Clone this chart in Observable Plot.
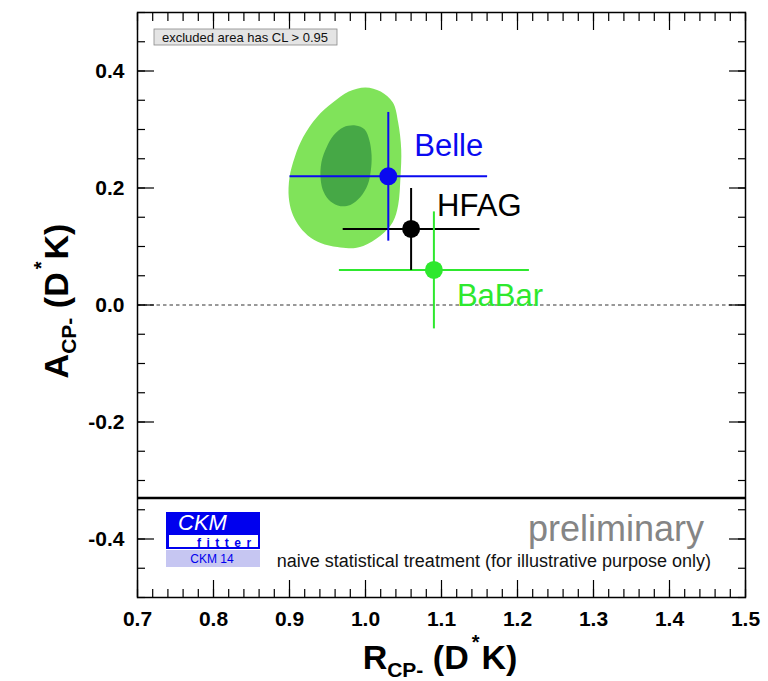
<!DOCTYPE html>
<html><head><meta charset="utf-8">
<script src="https://cdn.jsdelivr.net/npm/d3@7"></script>
<script src="https://cdn.jsdelivr.net/npm/@observablehq/plot@0.6"></script>
<style>body{margin:0;background:#fff}</style>
</head><body><div id="chart"></div>
<script>
// ---- data ----
const experiments = ["Belle", "HFAG", "BaBar"];
const rcpValues   = [1.03, 1.06, 1.09];
const rcpErrors   = [0.13, 0.09, 0.125];
const acpValues   = [0.22, 0.13, 0.06];
const acpErrors   = [0.11, 0.07, 0.10];
const expColors   = ["#0a0af0", "#000000", "#2ee82e"];
const labelDx     = [26, 26, 23];
const labelDy     = [-30, -23, 26];

// CL contours (R_CP-, A_CP-)
const outerR = [1.000,1.020,1.036,1.043,1.047,1.046,1.043,1.036,1.020,0.997,0.980,0.963,0.941,0.924,0.911,0.903,0.899,0.900,0.907,0.918,0.936,0.957,0.978];
const outerA = [0.372,0.365,0.346,0.312,0.266,0.218,0.171,0.142,0.119,0.101,0.097,0.099,0.106,0.119,0.138,0.159,0.184,0.218,0.253,0.287,0.321,0.346,0.365];
const innerR = [0.987,0.999,1.005,1.008,1.007,1.003,0.993,0.980,0.967,0.954,0.945,0.941,0.942,0.949,0.958,0.971];
const innerA = [0.307,0.300,0.282,0.256,0.230,0.206,0.184,0.171,0.169,0.177,0.193,0.215,0.244,0.270,0.290,0.304];

const boundaryA = [-0.33];
const zeroLine  = [0];

const xMajorTicks = [0.7, 0.8, 0.9, 1.0, 1.1, 1.2, 1.3, 1.4, 1.5];
const yMajorTicks = [-0.4, -0.2, 0.0, 0.2, 0.4];
const xMinorTicks = d3.range(0, 41).map(i => +(0.7 + i * 0.02).toFixed(2));
const yMinorTicks = d3.range(0, 21).map(i => +(-0.5 + i * 0.05).toFixed(2));

// ---- tables ----
const points = experiments.map((name, i) => ({
  name, r: rcpValues[i], re: rcpErrors[i], a: acpValues[i], ae: acpErrors[i],
  color: expColors[i], dx: labelDx[i], dy: labelDy[i]
}));
const outer = outerR.map((r, i) => ({r, a: outerA[i]}));
const inner = innerR.map((r, i) => ({r, a: innerA[i]}));

const font = "'Liberation Sans', Arial, Helvetica, sans-serif";
const fmt = d => d.toFixed(1);

const tickAxes = [];
for (const [ticks, len] of [[xMinorTicks, 8], [xMajorTicks, 17]]) {
  tickAxes.push(Plot.axisX(ticks, {anchor: "bottom", tickSize: len, dy: -len, fill: "none", label: null, strokeWidth: 1.2}));
  tickAxes.push(Plot.axisX(ticks, {anchor: "top", tickSize: len, dy: len, fill: "none", label: null, strokeWidth: 1.2}));
}
for (const [ticks, len] of [[yMinorTicks, 8], [yMajorTicks, 17]]) {
  tickAxes.push(Plot.axisY(ticks, {anchor: "left", tickSize: len, dx: len, fill: "none", label: null, strokeWidth: 1.2}));
  tickAxes.push(Plot.axisY(ticks, {anchor: "right", tickSize: len, dx: -len, fill: "none", label: null, strokeWidth: 1.2}));
}

const chart = Plot.plot({
  width: 768, height: 681,
  marginLeft: 137, marginRight: 23, marginTop: 12, marginBottom: 84,
  x: {domain: [0.7, 1.5]},
  y: {domain: [-0.5, 0.5]},
  color: {type: "identity"},
  style: {fontFamily: font, background: "white", color: "black"},
  marks: [
    Plot.line(outer, {x: "r", y: "a", curve: "catmull-rom-closed", fill: "#80e35a", stroke: "none"}),
    Plot.line(inner, {x: "r", y: "a", curve: "catmull-rom-closed", fill: "#46a846", stroke: "none"}),
    Plot.ruleY(zeroLine, {stroke: "#333", strokeWidth: 1, strokeDasharray: "3.5,3"}),
    Plot.ruleY(boundaryA, {stroke: "black", strokeWidth: 2.6}),
    Plot.link(points, {x1: d => d.r - d.re, x2: d => d.r + d.re, y1: "a", y2: "a", stroke: "color", strokeWidth: 2}),
    Plot.link(points, {x1: "r", x2: "r", y1: d => d.a - d.ae, y2: d => d.a + d.ae, stroke: "color", strokeWidth: 2}),
    Plot.dot(points, {x: "r", y: "a", r: 9, fill: "color", stroke: "none"}),
    ...points.map(p => Plot.text([p], {x: "r", y: "a", text: "name", fill: "color", dx: p.dx, dy: p.dy,
      textAnchor: "start", fontSize: 31, fontFamily: font})),
    Plot.axisX(xMajorTicks, {anchor: "bottom", tickSize: 0, tickPadding: 14, tickFormat: fmt,
      fontSize: 21, fontWeight: "bold", label: null}),
    Plot.axisY(yMajorTicks, {anchor: "left", tickSize: 0, tickPadding: 13, tickFormat: fmt,
      fontSize: 21, fontWeight: "bold", label: null}),
    ...tickAxes,
    Plot.frame({stroke: "black", strokeWidth: 1.5})
  ]
});
document.getElementById("chart").append(chart);

// ---- annotations ----
const svg = d3.select(chart);

// axis titles with sub/superscripts
function title(g, main, sub) {
  const t = g.append("text").attr("text-anchor", "middle").attr("font-family", font)
    .attr("font-weight", "bold").attr("font-size", 34).attr("fill", "black");
  t.append("tspan").text(main);
  t.append("tspan").attr("font-size", 21).attr("dy", 8).text(sub);
  t.append("tspan").attr("dy", -8).text(" (D");
  t.append("tspan").attr("font-size", 20).attr("dy", -20).attr("dx", 3).text("*");
  t.append("tspan").attr("dy", 20).attr("dx", 2).text("K)");
}
title(svg.append("g").attr("transform", "translate(440,669)"), "R", "CP-");
title(svg.append("g").attr("transform", "translate(68,301) rotate(-90)"), "A", "CP-");

// legend box
const lg = svg.append("g");
lg.append("rect").attr("x", 154).attr("y", 29).attr("width", 183).attr("height", 16)
  .attr("fill", "#e4e4e4").attr("stroke", "#888").attr("stroke-width", 0.8);
lg.append("text").attr("x", 245).attr("y", 41.5).attr("text-anchor", "middle")
  .attr("font-family", font).attr("font-size", 13).attr("fill", "#111")
  .text("excluded area has CL > 0.95");

// CKMfitter logo
const logo = svg.append("g");
logo.append("rect").attr("x", 166).attr("y", 512).attr("width", 94).attr("height", 37).attr("fill", "#0000ee");
logo.append("rect").attr("x", 169).attr("y", 535).attr("width", 89).attr("height", 12).attr("fill", "white");
logo.append("text").attr("x", 178).attr("y", 530).attr("text-anchor", "start").attr("font-family", font)
  .attr("font-style", "italic").attr("font-size", 22).attr("fill", "white").text("CKM");
logo.append("text").attr("x", 197).attr("y", 546.5).attr("text-anchor", "start").attr("font-family", font)
  .attr("font-weight", "bold").attr("font-size", 12).attr("letter-spacing", 5.5).attr("fill", "#0000ee").text("fitter");
logo.append("rect").attr("x", 166).attr("y", 550).attr("width", 94).attr("height", 17).attr("fill", "#c6c6f2");
logo.append("text").attr("x", 212).attr("y", 563).attr("text-anchor", "middle").attr("font-family", font)
  .attr("font-size", 12).attr("fill", "#0000ee").text("CKM 14");

// preliminary + note
svg.append("text").attr("x", 704).attr("y", 541).attr("text-anchor", "end").attr("font-family", font)
  .attr("font-size", 36).attr("fill", "#858585").text("preliminary");
svg.append("text").attr("x", 711).attr("y", 567).attr("text-anchor", "end").attr("font-family", font)
  .attr("font-size", 18).attr("fill", "#111").text("naive statistical treatment (for illustrative purpose only)");
</script>
</body></html>
